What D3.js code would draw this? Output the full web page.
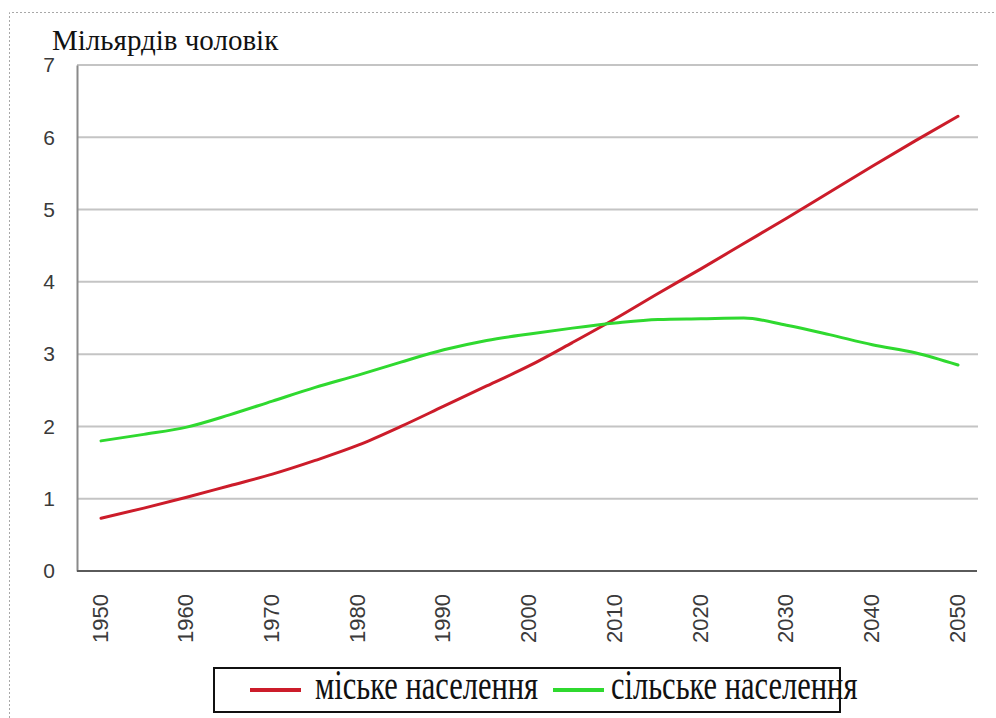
<!DOCTYPE html>
<html>
  <head>
    <script src="https://d3js.org/d3.v7.min.js"></script>
    <style>
      body { margin: 0; background: #fff; }
      svg { display: block; }
    </style>
  </head>
  <body>
    <svg width="996" height="718"></svg>
    <script>
      // population, billions, every 5 years
      const years = [1950, 1955, 1960, 1965, 1970, 1975, 1980, 1985, 1990, 1995, 2000,
                     2005, 2010, 2015, 2020, 2025, 2030, 2035, 2040, 2045, 2050];
      const urban = [0.73, 0.87, 1.02, 1.18, 1.34, 1.53, 1.74, 2.00, 2.28, 2.56, 2.84,
                     3.16, 3.49, 3.84, 4.18, 4.53, 4.88, 5.24, 5.60, 5.95, 6.29];
      const rural = [1.80, 1.89, 1.99, 2.16, 2.35, 2.54, 2.71, 2.89, 3.06, 3.19, 3.28,
                     3.36, 3.43, 3.48, 3.49, 3.50, 3.40, 3.27, 3.13, 3.02, 2.85];
      const xTicks = [1950, 1960, 1970, 1980, 1990, 2000, 2010, 2020, 2030, 2040, 2050];
      const yTicks = [0, 1, 2, 3, 4, 5, 6, 7];
      const seriesNames = ["міське населення", "сільське населення"];
      const seriesColors = ["#cc1c2a", "#2fd92f"];

      const svg = d3.select("svg");
      const serif = "'Liberation Serif', 'Times New Roman', serif";
      const sans = "'Liberation Sans', Arial, sans-serif";

      // dotted frame
      svg.append("path")
        .attr("d", "M9.5,718 V12.5 H996")
        .attr("fill", "none")
        .attr("stroke", "#a8a8a8")
        .attr("stroke-dasharray", "2,2");

      const plotLeft = 77, plotRight = 977, plotTop = 65, plotBottom = 571;
      const x = d3.scaleLinear().domain([1950, 2050]).range([101, 958]);
      const y = d3.scaleLinear().domain([0, 7]).range([plotBottom, plotTop]);

      // grid
      svg.append("g")
        .selectAll("line")
        .data(yTicks.filter(d => d > 0))
        .join("line")
        .attr("x1", plotLeft).attr("x2", plotRight + 1)
        .attr("y1", d => y(d)).attr("y2", d => y(d))
        .attr("stroke", "#c4c4c4")
        .attr("stroke-width", 2);

      // y axis
      const yAxis = svg.append("g")
        .attr("transform", `translate(${plotLeft},0)`)
        .call(d3.axisLeft(y).tickValues(yTicks).tickFormat(d3.format("d")).tickSize(0).tickPadding(22));
      yAxis.select(".domain").attr("stroke", "#8a8a8a").attr("stroke-width", 2);
      yAxis.selectAll("text")
        .style("font-family", sans)
        .style("font-size", "21px")
        .attr("fill", "#3a3a3a");

      // x axis
      const xAxis = svg.append("g")
        .attr("transform", `translate(0,${plotBottom})`)
        .call(d3.axisBottom(x).tickValues(xTicks).tickFormat(d3.format("d")).tickSize(0));
      xAxis.select(".domain").attr("d", `M${plotLeft},0H${plotRight}`)
        .attr("stroke", "#5a5a5a").attr("stroke-width", 2);
      xAxis.selectAll("text")
        .attr("transform", "rotate(-90)")
        .attr("x", -23).attr("y", 0).attr("dy", "0.28em")
        .style("text-anchor", "end")
        .style("font-family", sans)
        .style("font-size", "22px")
        .attr("fill", "#3a3a3a");

      // lines
      const line = d3.line()
        .x((d, i) => x(years[i]))
        .y(d => y(d))
        .curve(d3.curveMonotoneX);

      [urban, rural].forEach((vals, i) => {
        svg.append("path")
          .datum(vals)
          .attr("d", line)
          .attr("fill", "none")
          .attr("stroke", seriesColors[i])
          .attr("stroke-width", 3)
          .attr("stroke-linecap", "round");
      });

      // title
      svg.append("text")
        .attr("x", 52).attr("y", 50)
        .style("font-family", serif)
        .style("font-size", "29px")
        .attr("fill", "#111")
        .text("Мільярдів чоловік");

      // legend
      const lg = svg.append("g");
      lg.append("rect")
        .attr("x", 214).attr("y", 668)
        .attr("width", 626).attr("height", 44)
        .attr("fill", "#fff")
        .attr("stroke", "#111")
        .attr("stroke-width", 2);
      const legendX = [250, 553];
      const legendTextX = [315, 611];
      seriesNames.forEach((name, i) => {
        lg.append("line")
          .attr("x1", legendX[i]).attr("x2", legendX[i] + 51)
          .attr("y1", 690).attr("y2", 690)
          .attr("stroke", seriesColors[i])
          .attr("stroke-width", 4);
        lg.append("text")
          .attr("transform", `translate(${legendTextX[i]},699) scale(1,1.35)`)
          .style("font-family", serif)
          .style("font-size", "30.5px")
          .attr("fill", "#111")
          .text(name);
      });
    </script>
  </body>
</html>
